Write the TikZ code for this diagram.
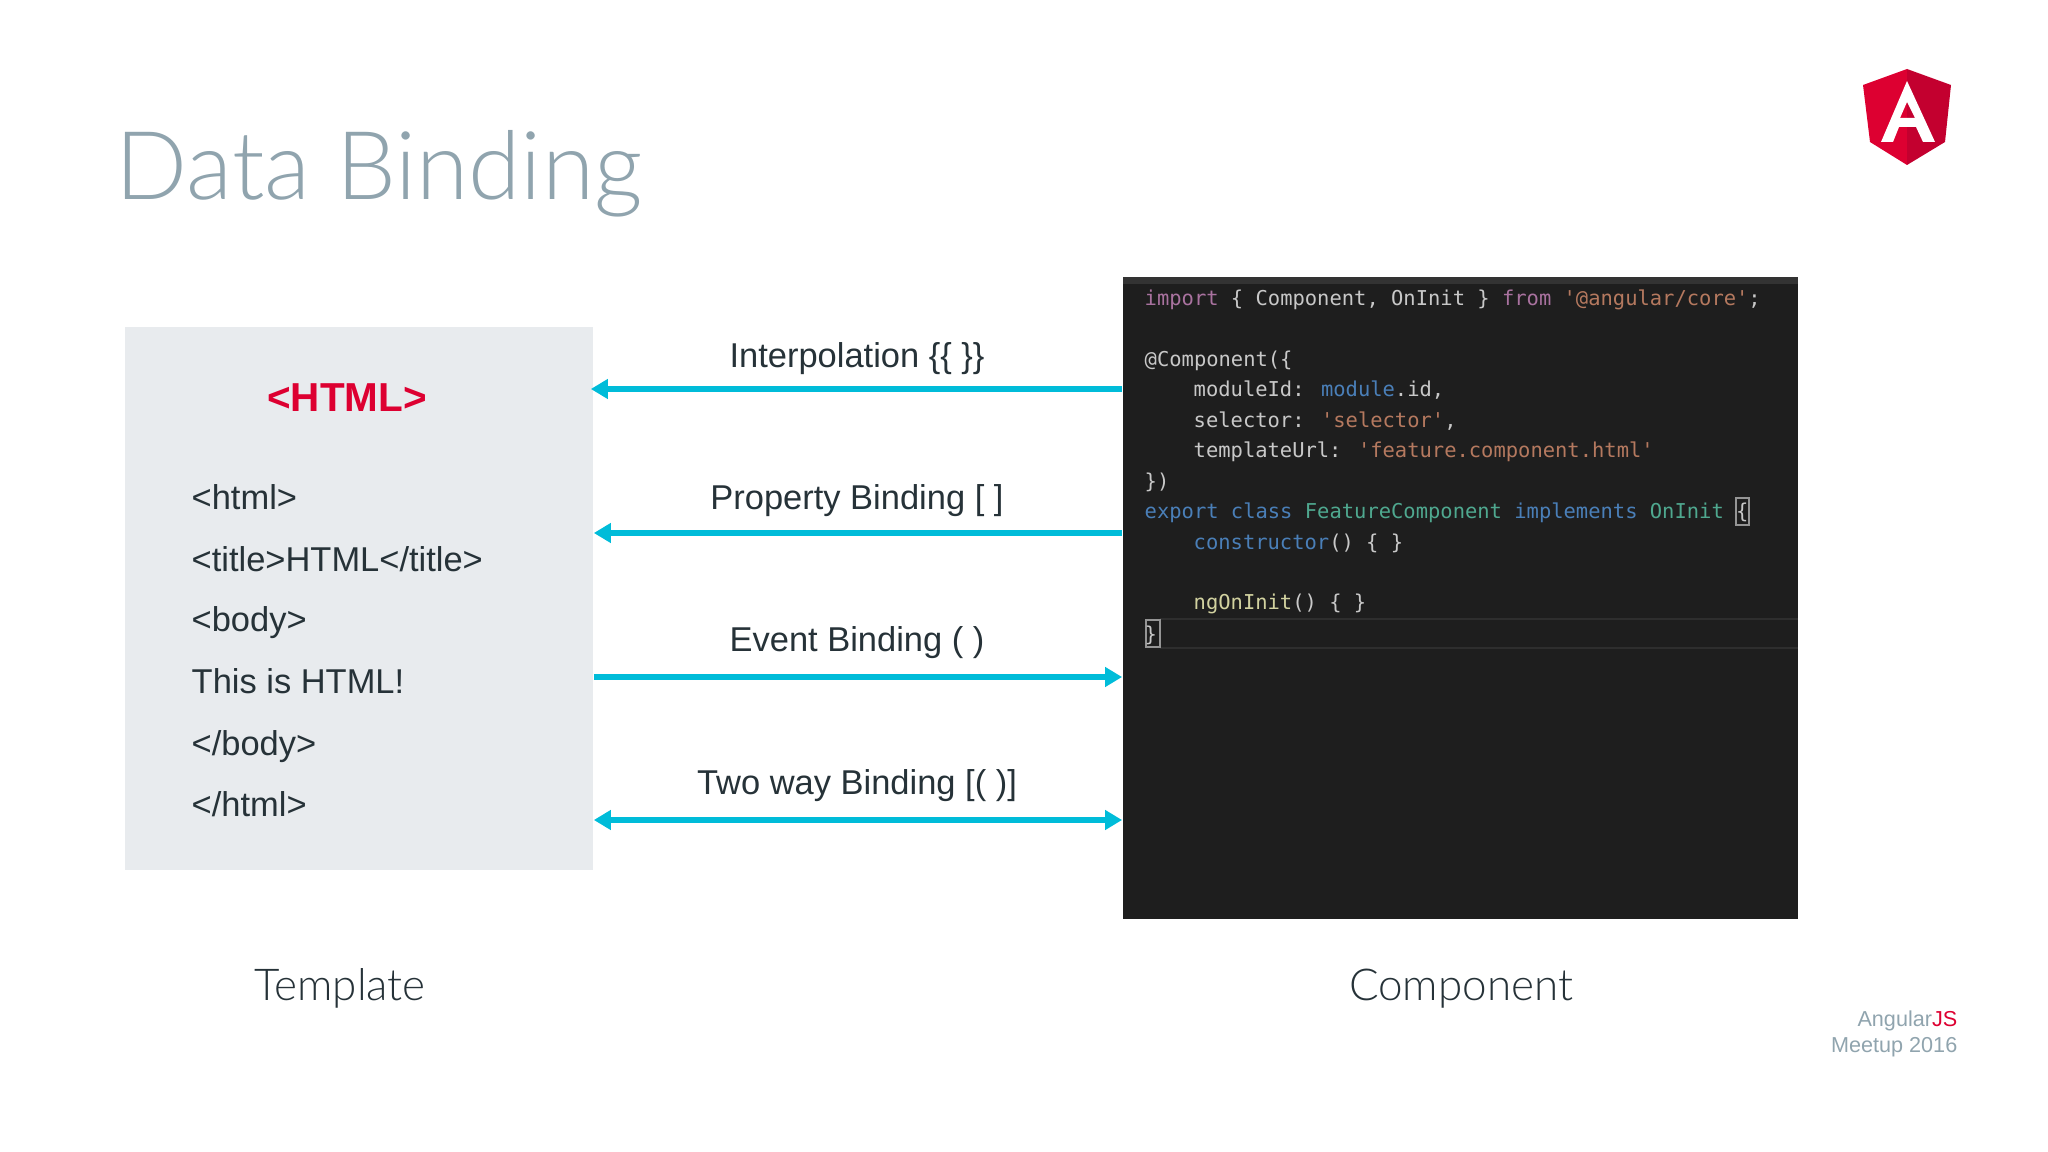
\documentclass[tikz,border=0pt]{standalone}
\usepackage{fontspec}
\setmainfont{Liberation Sans}
\newfontfamily\lightfont{Lato Light}
\newfontfamily\codefont{DejaVu Sans Mono}
\usetikzlibrary{arrows.meta}
\definecolor{slidetext}{HTML}{263238}
\definecolor{titlegrey}{HTML}{90A4AE}
\definecolor{ngred}{HTML}{DD0031}
\definecolor{ngdark}{HTML}{C3002F}
\definecolor{bindcyan}{HTML}{00BCD9}
\definecolor{boxgrey}{HTML}{E8EBEE}
\definecolor{codebg}{HTML}{1E1E1E}
\definecolor{codetop}{HTML}{333333}
\definecolor{codefg}{HTML}{C8C8C8}
\definecolor{kwpurple}{HTML}{A9729F}
\definecolor{kwblue}{HTML}{4A7FB8}
\definecolor{kwteal}{HTML}{4FA88F}
\definecolor{kwstr}{HTML}{B5795F}
\definecolor{kwyellow}{HTML}{D2D2A0}
\tikzset{
	bindlabel/.style={color=slidetext, font=\fontsize{9.8}{11}\selectfont, anchor=base, inner sep=0},
	htmlline/.style={color=slidetext, font=\fontsize{9.8}{11}\selectfont, anchor=base west, inner sep=0},
	codeline/.style={color=codefg, font=\codefont\fontsize{5.82}{7}\selectfont, anchor=base west, inner sep=0},
	caption/.style={color=slidetext, font=\lightfont\fontsize{12.5}{14}\selectfont, anchor=base, inner sep=0},
	bindarrow/.style={line width=0.06cm, color=bindcyan, {Stealth[length=0.17cm,width=0.19cm,inset=0pt]}-{Stealth[length=0.17cm,width=0.19cm,inset=0pt]}},
}

\begin{document}
\begin{tikzpicture}[x=0.01cm, y=-0.01cm]
	%%%%% START %%%%%
	\useasboundingbox (0, 0) rectangle (2048, 1152);

	\node[color=titlegrey, font=\lightfont\fontsize{27}{30}\selectfont, anchor=west, inner sep=0] (title) at (115, 174) {Data Binding};

	% logo
	\fill[ngred] (1907, 69) -- (1863, 85) -- (1870, 142) -- (1907, 165) -- cycle;
	\fill[ngdark] (1907, 69) -- (1951, 85) -- (1945, 142) -- (1907, 165) -- cycle;
	\fill[white, even odd rule] (1907, 81) -- (1881, 142) -- (1893, 142) -- (1899, 127) -- (1916, 127) -- (1923, 142) -- (1935, 142) -- cycle
		(1907, 102) -- (1900, 118) -- (1915, 118) -- cycle;

	% template box
	\node[fill=boxgrey, minimum width=4.68cm, minimum height=5.43cm, inner sep=0] (template) at (359, 598.5) {};
	\node[color=ngred, font=\bfseries\fontsize{11.5}{13}\selectfont, inner sep=0] (htmlhead) at (347, 398) {<HTML>};
	\node[htmlline] (html1) at (191, 510) {<html>};
	\node[htmlline] (html2) at (191, 571) {<title>HTML</title>};
	\node[htmlline] (html3) at (191, 632) {<body>};
	\node[htmlline] (html4) at (191, 693) {This is HTML!};
	\node[htmlline] (html5) at (191, 755) {</body>};
	\node[htmlline] (html6) at (191, 816) {</html>};

	% code panel
	\node[fill=codebg, minimum width=6.75cm, minimum height=6.42cm, inner sep=0] (component) at (1460.5, 598) {};
	\fill[codetop] (1123, 277) rectangle (1798, 284);
	\draw[color=white!7!codebg, line width=0.02cm] (1160, 619) -- (1798, 619);
	\draw[color=white!7!codebg, line width=0.02cm] (1160, 648) -- (1798, 648);
	\draw[color=codefg!70!codebg, line width=0.015cm] (1736, 498) rectangle (1749, 525);
	\draw[color=codefg!70!codebg, line width=0.015cm] (1146, 620) rectangle (1160, 647);
	\node[codeline] (code1) at (1144, 306) {\textcolor{kwpurple}{import} \{ Component, OnInit \} \textcolor{kwpurple}{from} \textcolor{kwstr}{'@angular/core'};};
	\node[codeline] (code2) at (1144, 367) {@Component(\{};
	\node[codeline] (code3) at (1193, 397) {moduleId: \textcolor{kwblue}{module}.id,};
	\node[codeline] (code4) at (1193, 428) {selector: \textcolor{kwstr}{'selector'},};
	\node[codeline] (code5) at (1193, 458) {templateUrl: \textcolor{kwstr}{'feature.component.html'}};
	\node[codeline] (code6) at (1144, 489) {\})};
	\node[codeline] (code7) at (1144, 519) {\textcolor{kwblue}{export class} \textcolor{kwteal}{FeatureComponent} \textcolor{kwblue}{implements} \textcolor{kwteal}{OnInit} \{};
	\node[codeline] (code8) at (1193, 550) {\textcolor{kwblue}{constructor}() \{ \}};
	\node[codeline] (code9) at (1193, 610) {\textcolor{kwyellow}{ngOnInit}() \{ \}};
	\node[codeline] (code10) at (1144, 641) {\}};

	% bindings
	\coordinate (tplA) at (template.east |- 0, 389);
	\coordinate (tplB) at (template.east |- 0, 533);
	\coordinate (tplC) at (template.east |- 0, 677);
	\coordinate (tplD) at (template.east |- 0, 820);
	\coordinate (cmpA) at (component.west |- 0, 389);
	\coordinate (cmpB) at (component.west |- 0, 533);
	\coordinate (cmpC) at (component.west |- 0, 677);
	\coordinate (cmpD) at (component.west |- 0, 820);

	\draw[bindarrow, {Stealth[length=0.17cm,width=0.19cm,inset=0pt]}-, shorten <=-0.03cm] (tplA) -- (cmpA);
	\draw[bindarrow, {Stealth[length=0.17cm,width=0.19cm,inset=0pt]}-] (tplB) -- (cmpB);
	\draw[bindarrow, -{Stealth[length=0.17cm,width=0.19cm,inset=0pt]}] (tplC) -- (cmpC);
	\draw[bindarrow] (tplD) -- (cmpD);

	\node[bindlabel] (bindA) at (857, 368) {Interpolation \{\{ \}\}};
	\node[bindlabel] (bindB) at (857, 510) {Property Binding [ ]};
	\node[bindlabel] (bindC) at (857, 652) {Event Binding ( )};
	\node[bindlabel] (bindD) at (857, 794) {Two way Binding [( )]};

	\node[caption] (templatecap) at (340, 1000) {Template};
	\node[caption] (componentcap) at (1461, 1000) {Component};

	\node[color=titlegrey, font=\fontsize{6.15}{7}\selectfont, anchor=east, inner sep=0] (meetupA) at (1958, 1021) {Angular\textcolor{ngred}{JS}};
	\node[color=titlegrey, font=\fontsize{6.15}{7}\selectfont, anchor=east, inner sep=0] (meetupB) at (1958, 1047) {Meetup 2016};
	%%%%% END %%%%%
\end{tikzpicture}
\end{document}
